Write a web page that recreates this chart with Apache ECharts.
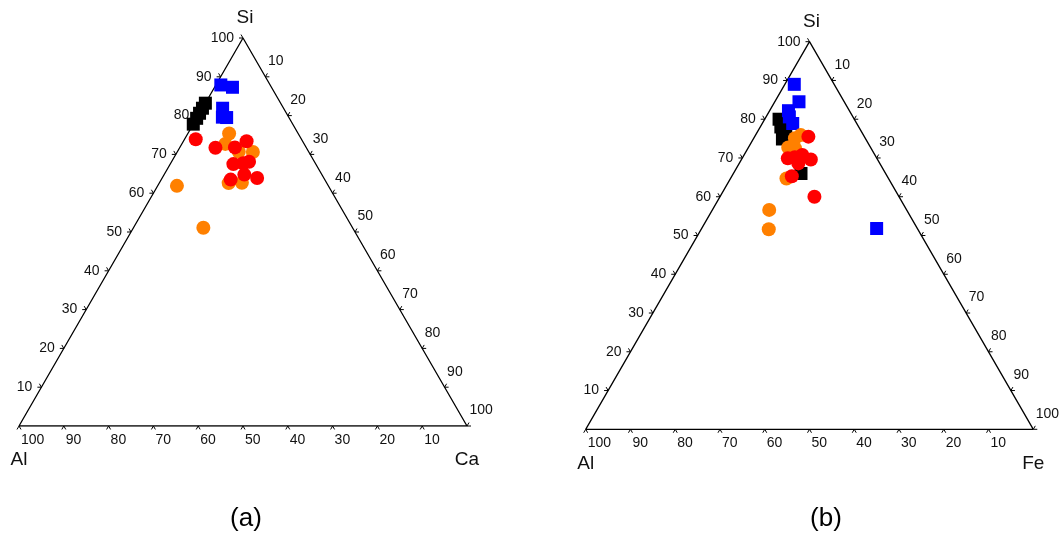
<!DOCTYPE html>
<html>
<head>
<meta charset="utf-8">
<script src="https://cdn.jsdelivr.net/npm/echarts@6/dist/echarts.min.js"></script>
<style>
html, body { margin: 0; padding: 0; background: #fff; }
#chart { width: 1063px; height: 535px; }
</style>
</head>
<body>
<div id="chart"></div>
<script>
// ---------- data (ternary percentages) ----------
// Panel (a): each point is [Si, Al, Ca]
const aBlack = [[77.8, 22.2, 0], [79.3, 20.7, 0], [80.6, 19.4, 0], [81.9, 18.1, 0], [83.2, 16.8, 0]];
const aBlue = [[87.9, 11.0, 1.1], [87.3, 8.7, 4.0], [81.9, 13.6, 4.5], [79.5, 13.9, 6.6], [79.6, 14.8, 5.6]];
const aOrange = [[61.9, 33.8, 4.3], [51.1, 33.3, 15.6], [75.4, 15.4, 9.2], [72.7, 17.6, 9.7],
                 [70.7, 15.6, 13.7], [70.6, 12.5, 16.9], [62.6, 21.9, 15.5], [62.7, 18.9, 18.4]];
const aRed = [[73.9, 23.6, 2.5], [71.7, 20.3, 8.0], [71.8, 15.9, 12.3], [73.4, 12.5, 14.1], [67.5, 18.4, 14.1],
              [67.7, 16.1, 16.2], [68.1, 14.6, 17.3], [64.8, 17.3, 17.9], [63.5, 21.0, 15.5], [63.9, 14.9, 21.2]];
// Panel (b): each point is [Si, Al, Fe]
const bBlack = [[80.0, 16.8, 3.2], [78.0, 17.4, 4.6], [76.4, 17.1, 6.5], [74.9, 18.6, 6.5], [66.0, 18.9, 15.1]];
const bBlue = [[89.0, 8.9, 2.1], [84.5, 10.1, 5.4], [82.2, 13.6, 4.2], [80.6, 14.2, 5.2], [78.9, 14.3, 6.8], [51.8, 9.1, 39.1]];
const bOrange = [[56.6, 30.7, 12.7], [51.6, 33.3, 15.1], [75.9, 14.0, 10.1], [75.1, 15.7, 9.2],
                 [72.5, 17.0, 10.5], [72.7, 18.4, 8.9], [64.7, 22.8, 12.5]];
const bRed = [[75.5, 12.5, 12.0], [69.9, 19.9, 10.2], [70.8, 16.2, 13.0], [69.6, 14.9, 15.5],
              [68.6, 18.2, 13.2], [65.3, 21.3, 13.4], [60.0, 18.9, 21.1], [70.2, 18.2, 11.6]];

// tick labels and text
const tickValues = [10, 20, 30, 40, 50, 60, 70, 80, 90, 100];
const vertexLabelsA = ['Si', 'Al', 'Ca'];   // top, bottom-left, bottom-right
const vertexLabelsB = ['Si', 'Al', 'Fe'];
const panelTitles = ['(a)', '(b)'];

// ---------- helpers ----------
const S3 = Math.sqrt(3) / 2;
const YMAX = 100 * S3;
// ternary (top component, right-corner component) -> cartesian data coords
function tern(top, right) { return [right + top / 2, top * S3]; }
const FONT = '"Liberation Sans", Arial, sans-serif';

const panels = [
  { groups: [aBlack, aBlue, aOrange, aRed], vlabels: vertexLabelsA, grid: { left: 19, top: 38, width: 448, height: 388 }, title: [246, 519] },
  { groups: [bBlack, bBlue, bOrange, bRed], vlabels: vertexLabelsB, grid: { left: 585.7, top: 41.7, width: 447.6, height: 387.6 }, title: [826, 519] }
];
const groupStyle = [
  { symbol: 'rect', size: 13, color: '#000000' },
  { symbol: 'rect', size: 13, color: '#0000ff' },
  { symbol: 'circle', size: 14, color: '#ff8000' },
  { symbol: 'circle', size: 14, color: '#ff0000' }
];

// tick data: side 0 = left (top comp), 1 = bottom (left comp), 2 = right (right comp)
function tickData() {
  const out = [];
  tickValues.forEach(v => {
    out.push([...tern(v, 0), 0, v]);
    out.push([...tern(0, 100 - v), 1, v]);
    out.push([...tern(100 - v, v), 2, v]);
  });
  return out;
}
// leg directions (screen) and label offsets per side
const legDirs = [
  [[-1, 0], [-0.5, -0.866]],
  [[-0.5, 0.866], [0.5, 0.866]],
  [[1, 0], [0.5, -0.866]]
];
const TL = 4;
const labelPos = [
  { dx: -9, dy: 0, align: 'right' },
  { dx: 2, dy: 14, align: 'left' },
  { dx: 2.5, dy: -15.5, align: 'left' }
];

const grids = [], xAxes = [], yAxes = [], series = [], graphics = [];
panels.forEach((p, i) => {
  grids.push(Object.assign({ containLabel: false }, p.grid));
  xAxes.push({ gridIndex: i, type: 'value', min: 0, max: 100, show: false });
  yAxes.push({ gridIndex: i, type: 'value', min: 0, max: YMAX, show: false });

  // outline
  series.push({
    type: 'line', xAxisIndex: i, yAxisIndex: i, silent: true, symbol: 'none',
    data: [tern(0, 0), tern(0, 100), tern(100, 0), tern(0, 0)],
    lineStyle: { color: '#000', width: 1.3 }, z: 1
  });

  // ticks + tick labels
  series.push({
    type: 'custom', xAxisIndex: i, yAxisIndex: i, silent: true, z: 2,
    data: tickData(),
    renderItem: function (params, api) {
      const pt = api.coord([api.value(0), api.value(1)]);
      const side = api.value(2);
      const v = api.value(3);
      const d = legDirs[side];
      const lp = labelPos[side];
      return {
        type: 'group',
        children: [
          { type: 'polyline', shape: { points: [[pt[0] + d[0][0] * TL, pt[1] + d[0][1] * TL], pt, [pt[0] + d[1][0] * TL, pt[1] + d[1][1] * TL]] },
            style: { stroke: '#000', lineWidth: 1, fill: null } },
          { type: 'text', style: { text: String(v), x: pt[0] + lp.dx, y: pt[1] + lp.dy, align: lp.align, verticalAlign: 'middle',
            fill: '#111', font: '14px ' + FONT } }
        ]
      };
    }
  });

  // vertex labels
  const vl = p.vlabels;
  series.push({
    type: 'custom', xAxisIndex: i, yAxisIndex: i, silent: true, z: 2,
    data: [[...tern(100, 0), 2, -20], [...tern(0, 0), 0, 34], [...tern(0, 100), 0, 34]],
    renderItem: function (params, api) {
      const pt = api.coord([api.value(0), api.value(1)]);
      return { type: 'text', style: { text: vl[params.dataIndex], x: pt[0] + api.value(2), y: pt[1] + api.value(3),
        align: 'center', verticalAlign: 'middle', fill: '#111', font: '19px ' + FONT } };
    }
  });

  // scatter groups
  p.groups.forEach((g, k) => {
    const st = groupStyle[k];
    series.push({
      type: 'scatter', xAxisIndex: i, yAxisIndex: i, symbol: st.symbol, symbolSize: st.size,
      itemStyle: { color: st.color, opacity: 1 }, z: 3 + k,
      data: g.map(t => tern(t[0], t[2]))
    });
  });

  graphics.push({ type: 'text', x: p.title[0], y: p.title[1],
    style: { text: panelTitles[i], align: 'center', verticalAlign: 'middle', fill: '#000', font: '26px ' + FONT } });
});

const chart = echarts.init(document.getElementById('chart'), null, { renderer: 'canvas' });
chart.setOption({
  animation: false,
  backgroundColor: '#fff',
  grid: grids,
  xAxis: xAxes,
  yAxis: yAxes,
  series: series,
  graphic: graphics
});
</script>
</body>
</html>
